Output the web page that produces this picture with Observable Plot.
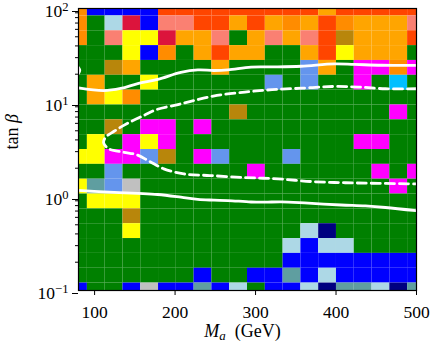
<!DOCTYPE html>
<html><head><meta charset="utf-8">
<script src="https://cdn.jsdelivr.net/npm/d3@7"></script>
<script src="https://cdn.jsdelivr.net/npm/@observablehq/plot@0.6"></script>
<style>body{margin:0;background:#fff}</style>
</head><body><div id="chart"></div>
<script>
// Grid centres (M_a in GeV, tan beta)
const masses = [80.0, 102.1, 124.2, 146.3, 168.4, 190.5, 212.6, 234.7, 256.8, 278.9,
                301.1, 323.2, 345.3, 367.4, 389.5, 411.6, 433.7, 455.8, 477.9, 500.0];
const tanBeta = [0.1, 0.14384, 0.20691, 0.29764, 0.42813, 0.61585, 0.88587, 1.2743, 1.8330, 2.6367,
                 3.7927, 5.4556, 7.8476, 11.288, 16.238, 23.357, 33.598, 48.329, 69.519, 100];
// Cell categories, rows listed from tan beta = 100 (top) down to 0.1 (bottom)
const cellRows = [
  "DBBBBRRRRRRRRRORRRRR",
  "DGLCBSSRRORODORDOOOS",
  "DGSYYCOOSGOSOSRKOOOR",
  "GGGYBDGOROOGGORYOOOG",
  "GGKOGGGGOGGGGFOGMMDM",
  "GOGGYGGGGGGFGFGGMGPG",
  "GOYDGGGGGGGGGGGGGGGG",
  "GGGGGGGGGKGGGGGGGGMG",
  "GGKGMMGMGGGGGGGGGGGG",
  "GYGMYMGGGGGGGGGGMMGG",
  "YYMMFKGMFGGGFGGGGGGG",
  "GGFGGGGGGGMGGGGGGMGM",
  "YTFVGGGGGGGGGGGGGGMG",
  "GYYYGGGGGGGGGGGGGGGG",
  "GGGKGGGGGGGGGGGGGGGG",
  "GGGYGGGGGGGGGLNGGGGG",
  "GGGGGGGGGGGGLBLLGGGG",
  "GGGGGGGGGGGGBBBBBBBB",
  "GGGGGGGBGGBBTBLBBBBB",
  "BGGBVBBTBLGBBLNTTLNT"
];
const categoryCodes  = ["G","B","L","C","S","R","O","D","Y","K","M","F","P","V","T","N"];
const categoryColors = ["#008000","#0000ff","#add8e6","#dc143c","#fa8072","#ff4500","#ffa500","#ff8c00",
                        "#ffff00","#b8860b","#ff00ff","#6495ed","#00bfff","#c0c0c0","#5f9ea0","#000080"];

// White contours
const upperMa   = [80, 111.2, 132.4, 153.6, 178.5, 207.2, 228.3, 248.3, 265.7, 294.4, 323, 356.7, 397.8, 422.7, 456.4, 500];
const upperTanb = [14.3, 13.4, 14.1, 15.9, 17.6, 20.9, 22.2, 21.9, 22.2, 23.8, 23.9, 24.3, 25.7, 25.4, 24.9, 24.8];
const stubMa    = [80, 81.6, 80];
const stubTanb  = [23.6, 22.0, 20.4];
const lowerMa   = [80, 111.2, 153.6, 178.5, 207.2, 228.3, 248.3, 265.7, 294.4, 311.8, 331.8, 365.4, 406.5, 436.4, 461.4, 500];
const lowerTanb = [1.16, 1.12, 1.08, 1.05, 0.983, 0.93, 0.915, 0.906, 0.874, 0.870, 0.878, 0.849, 0.812, 0.793, 0.764, 0.705];
const dashMa    = [500, 461.4, 427.7, 395.3, 357.9, 320.6, 286.9, 252, 223.4, 202.2, 177.3, 161.1, 139.9, 123.7, 113.7, 111.2,
                   117.4, 136.1, 152.3, 168.5, 186, 210.9, 243.3, 286.9, 328, 370.4, 411.5, 452.6, 500];
const dashTanb  = [14.0, 14.0, 14.6, 14.8, 14.2, 13.7, 12.9, 11.9, 10.5, 9.45, 8.43, 7.28, 5.94, 4.91, 4.27, 3.73,
                   3.22, 2.96, 2.78, 2.36, 1.97, 1.74, 1.67, 1.59, 1.54, 1.44, 1.40, 1.38, 1.36];

const xTicks = [100, 200, 300, 400, 500];
const yTicks = [0.1, 1, 10, 100];
const yTickLabels = ["10^\u22121", "10^0", "10^1", "10^2"];

// ---- build tables ----
const xEdges = [80];
for (let i = 0; i < masses.length - 1; i++) xEdges.push((masses[i] + masses[i + 1]) / 2);
xEdges.push(500);
const yEdges = [0.1];
for (let i = 0; i < tanBeta.length - 1; i++) yEdges.push(Math.sqrt(tanBeta[i] * tanBeta[i + 1]));
yEdges.push(100);

const cells = [];
cellRows.forEach((row, i) => {
  const j = tanBeta.length - 1 - i;
  [...row].forEach((code, k) => cells.push({x1: xEdges[k], x2: xEdges[k + 1], y1: yEdges[j], y2: yEdges[j + 1], code}));
});
const toPts = (ms, ts) => ms.map((m, i) => ({m, t: ts[i]}));
const yMinor = [];
for (const d of [0.1, 1, 10]) for (let k = 2; k <= 9; k++) yMinor.push(d * k);

const chart = Plot.plot({
  width: 432, height: 350,
  marginLeft: 78, marginRight: 16, marginTop: 8, marginBottom: 60,
  style: {fontFamily: "Liberation Serif, DejaVu Serif, serif", fontSize: "17.5px", background: "white", color: "black"},
  x: {domain: [80, 500]},
  y: {type: "log", domain: [0.1, 100]},
  color: {type: "ordinal", domain: categoryCodes, range: categoryColors},
  marks: [
    Plot.rect(cells, {x1: "x1", x2: "x2", y1: "y1", y2: "y2", fill: "code"}),
    Plot.line(toPts(upperMa, upperTanb), {x: "m", y: "t", stroke: "white", strokeWidth: 2.8, curve: "catmull-rom", clip: true}),
    Plot.line(toPts(stubMa, stubTanb), {x: "m", y: "t", stroke: "white", strokeWidth: 2.8, curve: "catmull-rom", clip: true}),
    Plot.line(toPts(lowerMa, lowerTanb), {x: "m", y: "t", stroke: "white", strokeWidth: 2.8, curve: "catmull-rom", clip: true}),
    Plot.line(toPts(dashMa, dashTanb), {x: "m", y: "t", stroke: "white", strokeWidth: 2.8, strokeDasharray: "9,5", curve: "catmull-rom", clip: true}),
    Plot.frame({stroke: "black", strokeWidth: 1.2}),
    Plot.axisX({ticks: xTicks, tickSize: 5, tickPadding: 10, tickFormat: d => String(d), label: null}),
    Plot.axisY({ticks: yTicks, tickSize: 6, tickPadding: 4, dy: 3, tickFormat: d => yTickLabels[yTicks.indexOf(d)], label: null}),
    Plot.axisY({ticks: yMinor, tickSize: 3, tickFormat: () => "", label: null}),
    Plot.text(["M_a (GeV)"], {frameAnchor: "bottom", dy: 46, dx: -5, text: d => d, fontSize: 18}),
    Plot.text(["tan \u03b2"], {frameAnchor: "left", dx: -66, rotate: -90, text: d => d, fontSize: 18})
  ]
});
document.getElementById("chart").appendChild(chart);

// rich text: superscripts, subscripts, italics
const NS = "http://www.w3.org/2000/svg";
function span(txt, attrs) {
  const s = document.createElementNS(NS, "tspan");
  s.textContent = txt;
  for (const k in attrs) s.setAttribute(k, attrs[k]);
  return s;
}
chart.querySelectorAll("text").forEach(el => {
  const t = el.textContent;
  let m = t.match(/^10\^(.*)$/);
  if (m) {
    el.textContent = "";
    el.appendChild(span("10", {}));
    el.appendChild(span(m[1], {dy: "-0.45em", "font-size": "0.72em"}));
  } else if (t === "M_a (GeV)") {
    el.textContent = "";
    el.appendChild(span("M", {"font-style": "italic"}));
    el.appendChild(span("a", {"font-style": "italic", "font-size": "0.72em", dy: "0.25em"}));
    el.appendChild(span("\u2002(GeV)", {dy: "-0.18em"}));
  } else if (t === "tan \u03b2") {
    el.textContent = "";
    el.appendChild(span("tan ", {}));
    el.appendChild(span("\u03b2", {"font-style": "italic"}));
  }
});
</script></body></html>
